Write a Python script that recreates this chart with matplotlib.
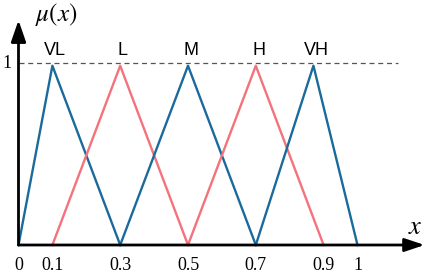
import numpy as np
import matplotlib.pyplot as plt

plt.rcParams['mathtext.fontset'] = 'stix'

# --- membership functions (triangles) ---
names = ['VL', 'L', 'M', 'H', 'VH']
left = [0.0, 0.1, 0.3, 0.5, 0.7]
peak = [0.1, 0.3, 0.5, 0.7, 0.87]
right = [0.3, 0.5, 0.7, 0.9, 1.0]
top = 0.985
colors = ['#1a6a9c', '#f4727c', '#1a6a9c', '#f4727c', '#1a6a9c']

xticks = [0, 0.1, 0.3, 0.5, 0.7, 0.9, 1]
xticklabels = ['0', '0.1', '0.3', '0.5', '0.7', '0.9', '1']

fig = plt.figure(figsize=(4.29, 2.73), dpi=100)
ax = fig.add_axes([0, 0, 1, 1])
ax.set_xlim(-18.5 / 339, 410.5 / 339)
ax.set_ylim(-28 / 182, 245 / 182)
ax.axis('off')

for n, a, p, b, c in zip(names, left, peak, right, colors):
    ax.plot([a, p, b], [0, top, 0], color=c, lw=1.7)
    ax.text(p + 0.008, 1.07, n, ha='center', va='center', fontsize=13,
            family='Liberation Sans')

# dashed level 1
ax.plot([0, 1.12], [1, 1], color='#555555', lw=0.9, ls=(0, (4, 3)))

# axes with arrows
ax.annotate('', xy=(1.198, 0), xytext=(0, 0),
            arrowprops=dict(arrowstyle='-|>,head_length=1.2,head_width=0.4',
                            color='black', lw=2, shrinkA=0, shrinkB=0))
ax.annotate('', xy=(0, 1.235), xytext=(0, 0),
            arrowprops=dict(arrowstyle='-|>,head_length=1.3,head_width=0.45',
                            color='black', lw=2, shrinkA=0, shrinkB=0))

for t, lab in zip(xticks, xticklabels):
    ax.text(t, -0.11, lab, ha='center', va='center', fontsize=13,
            family='Liberation Serif')
ax.text(-0.02, 1.0, '1', ha='right', va='center', fontsize=13,
        family='Liberation Serif')

ax.text(0.11, 1.265, r'$\mu(x)$', ha='center', va='center', fontsize=18)
ax.text(1.17, 0.10, r'$x$', ha='center', va='center', fontsize=19)

fig.savefig('out.png', dpi=100)
